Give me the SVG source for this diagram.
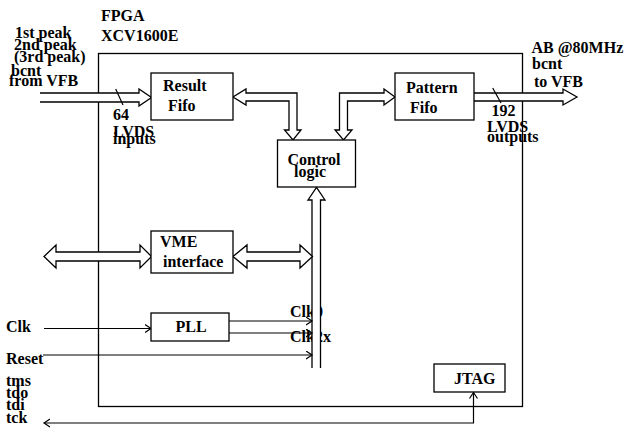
<svg xmlns="http://www.w3.org/2000/svg" width="627" height="431" viewBox="0 0 627 431">
<style>
text{font-family:"Liberation Serif","Times New Roman",serif;font-weight:bold;font-size:16px;fill:#000}
.box{fill:#fff;stroke:#000;stroke-width:1.3}
.ln{fill:none;stroke:#000;stroke-width:1.2}
.bus{fill:#fff;stroke:#000;stroke-width:1.3;stroke-linejoin:miter}
</style>
<defs>
<marker id="ah" markerUnits="userSpaceOnUse" markerWidth="8" markerHeight="10" refX="6" refY="4.5" orient="auto-start-reverse" viewBox="0 0 8 10">
<path d="M0,0.5 L6,4.5 L0,8.5" fill="none" stroke="#000" stroke-width="1.2"/>
</marker>
</defs>
<rect id="fpga" x="98.5" y="53.5" width="424" height="353" fill="none" stroke="#000" stroke-width="1.3"/>
<g id="labels">
<text x="101" y="21">FPGA</text>
<text x="101" y="41">XCV1600E</text>
<text x="15" y="38">1st peak</text>
<text x="14" y="49.5">2nd peak</text>
<text x="14" y="62">(3rd peak)</text>
<text x="11" y="75.5">bcnt</text>
<text x="9" y="86">from VFB</text>
<text x="113" y="119.5">64</text>
<text x="113" y="136.5">LVDS</text>
<text x="113" y="144">inputs</text>
<text x="531.5" y="52.5">AB @80MHz</text>
<text x="532" y="69">bcnt</text>
<text x="534" y="87">to VFB</text>
<text x="491.5" y="115.5">192</text>
<text x="487" y="131.5">LVDS</text>
<text x="487" y="142">outputs</text>
<text x="6" y="332">Clk</text>
<text x="6" y="363.5">Reset</text>
<text x="6" y="386">tms</text>
<text x="6" y="397.5">tdo</text>
<text x="6" y="410">tdi</text>
<text x="6" y="422.5">tck</text>
<text x="290" y="316.5">Clk0</text>
<text x="290" y="342">Clk2x</text>
</g>
<g id="connectors">
<path class="bus" d="M40,93 H139 V89 L151.5,97.5 L139,106 V102 H40"/>
<line class="ln" x1="115.7" y1="89" x2="123" y2="105"/>
<path class="bus" d="M474,93 H563 V89 L577,97 L563,105 V101 H474"/>
<line class="ln" x1="492.7" y1="88" x2="501" y2="103"/>
<path class="bus" d="M246,93 H297 V130 H301 L293,140 L284.5,130 H289 V101 H246 V105 L233,97 L246,89 Z"/>
<path class="bus" d="M335,130 H339.5 V93 H384 V89 L395,97 L384,105 V101 H347.5 V130 H352 L343.5,140 Z"/>
<path class="bus" d="M312,368 V200 H308 L316.5,187.5 L325,200 H320.5 V368"/>
<path class="bus" d="M56,252 H140 V245 L151.5,256.5 L140,268 V261 H56 V268 L44,256.5 L56,245 Z"/>
<path class="bus" d="M247,252 H300 V245 L312.5,256.5 L300,268 V261 H247 V268 L233,256.5 L247,245 Z"/>
<line class="ln" x1="44" y1="328.5" x2="151" y2="328.5" marker-end="url(#ah)"/>
<line class="ln" x1="229" y1="321" x2="312" y2="321" marker-end="url(#ah)"/>
<line class="ln" x1="229" y1="333" x2="312" y2="333" marker-end="url(#ah)"/>
<line class="ln" x1="43" y1="355" x2="312" y2="355" marker-end="url(#ah)"/>
<path class="ln" d="M44,423 H473.5 V392.5" marker-start="url(#ah)" marker-end="url(#ah)"/>
</g>
<g id="result-fifo">
<rect class="box" x="151" y="73" width="82" height="47"/>
<text x="163" y="91">Result</text>
<text x="168" y="111">Fifo</text>
</g>
<g id="pattern-fifo">
<rect class="box" x="395" y="73" width="79" height="47"/>
<text x="406" y="93">Pattern</text>
<text x="410" y="112.5">Fifo</text>
</g>
<g id="control-logic">
<rect class="box" x="277.5" y="140" width="78" height="47"/>
<text x="287.5" y="165">Control</text>
<text x="294" y="176.5">logic</text>
</g>
<g id="vme">
<rect class="box" x="151" y="231" width="82" height="42"/>
<text x="160" y="247">VME</text>
<text x="163" y="267">interface</text>
</g>
<g id="pll">
<rect class="box" x="151" y="313" width="78" height="28"/>
<text x="175.5" y="332">PLL</text>
</g>
<g id="jtag">
<rect class="box" x="434" y="364" width="71" height="28"/>
<text x="454" y="384">JTAG</text>
</g>
</svg>
